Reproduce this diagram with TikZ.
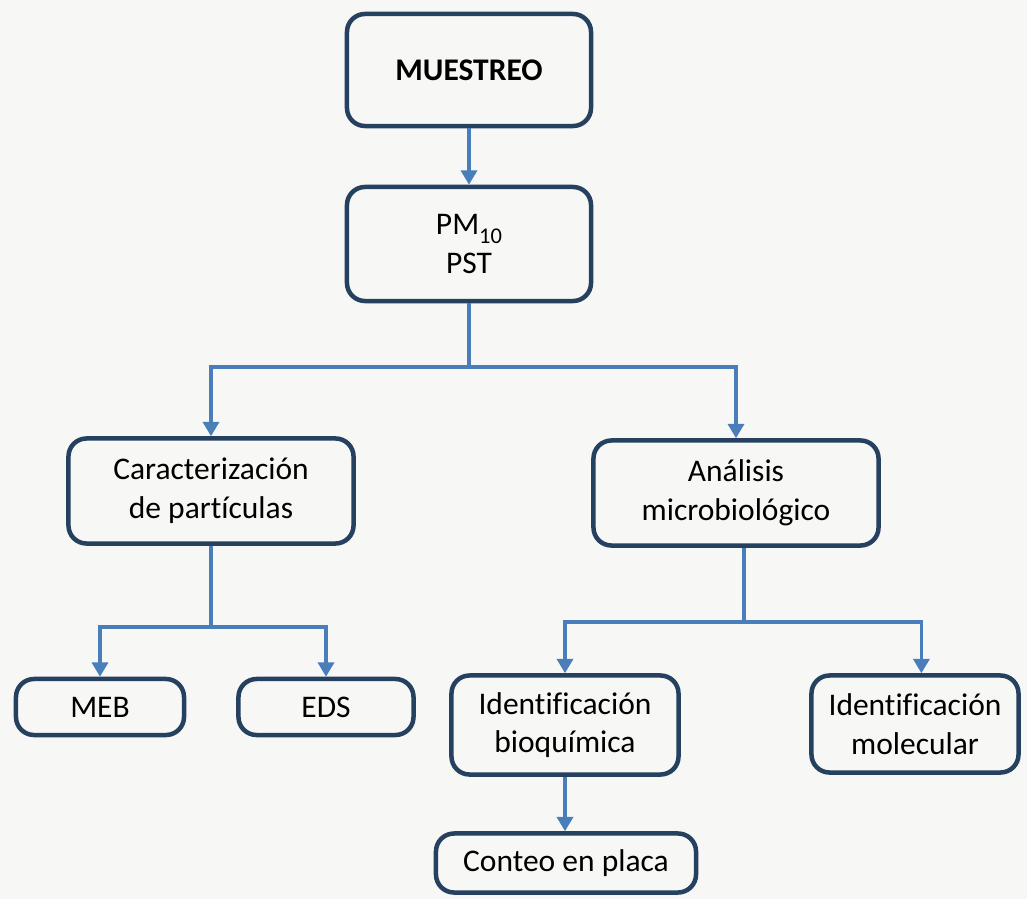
\documentclass[tikz,border=0pt]{standalone}
\usepackage{fontspec}
\setmainfont{Carlito}[Ligatures=NoCommon]
\usetikzlibrary{arrows.meta}
\definecolor{marco}{RGB}{38,64,96}
\definecolor{azul}{RGB}{74,126,187}
\definecolor{fondo}{RGB}{247,247,245}

\begin{document}
\begin{tikzpicture}[x=0.025cm,y=-0.025cm,
  caja/.style={draw=marco,line width=3.2pt,rounded corners=0.45cm,
    align=center,inner sep=0pt,font=\fontsize{22.4}{27.5}\selectfont},
  flecha/.style={draw=azul,line width=2.6pt,
    -{Triangle[length=0.36cm,width=0.4cm]}}]
% fondo (fija el tamaño)
\fill[fondo] (0,0) rectangle (1027,899);
% ---------- cajas ----------
\node[caja,minimum width=6.1cm,minimum height=2.8cm] (muestreo) at (469,70) {\textbf{MUESTREO}};
\node[caja,minimum width=6.1cm,minimum height=2.85cm] (pm) at (469,244)
  {PM\raisebox{-6pt}{\fontsize{16}{16}\selectfont 10}\\PST};
\node[caja,minimum width=7.125cm,minimum height=2.625cm] (carac) at (211,491) {Caracterización\\de partículas};
\node[caja,minimum width=7.125cm,minimum height=2.625cm] (analisis) at (736,493) {Análisis\\microbiológico};
\node[caja,minimum width=4.2cm,minimum height=1.4cm] (meb) at (100,707) {MEB};
\node[caja,minimum width=4.375cm,minimum height=1.4cm] (eds) at (326,707) {EDS};
\node[caja,minimum width=5.675cm,minimum height=2.475cm] (bioq) at (565,725) {Identificación\\bioquímica};
\node[caja,minimum width=5.175cm,minimum height=2.425cm] (molec) at (915,724) {Identificación\\molecular};
\node[caja,minimum width=6.5cm,minimum height=1.475cm] (conteo) at (566,863) {Conteo en placa};
% ---------- ramas ----------
\coordinate (r1) at (pm.south |- 0,367);
\coordinate (r2) at (carac.south |- 0,627);
\coordinate (r3) at (744,622);
\draw[flecha] (muestreo) -- (pm);
\draw[flecha] (pm.south) -- (r1) -| (carac.north);
\draw[flecha] (r1) -| (analisis.north);
% caracterización: MEB y EDS
\draw[flecha] (carac.south) -- (r2) -| (meb.north);
\draw[flecha] (r2) -| (eds.north);
% análisis: bioquímica y molecular
\draw[flecha] (analisis.south -| r3) -- (r3) -| (bioq.north);
\draw[flecha] (r3) -| ([xshift=0.16cm]molec.north);
\draw[flecha] (bioq.south) -- (bioq.south |- conteo.north);
\end{tikzpicture}
\end{document}
